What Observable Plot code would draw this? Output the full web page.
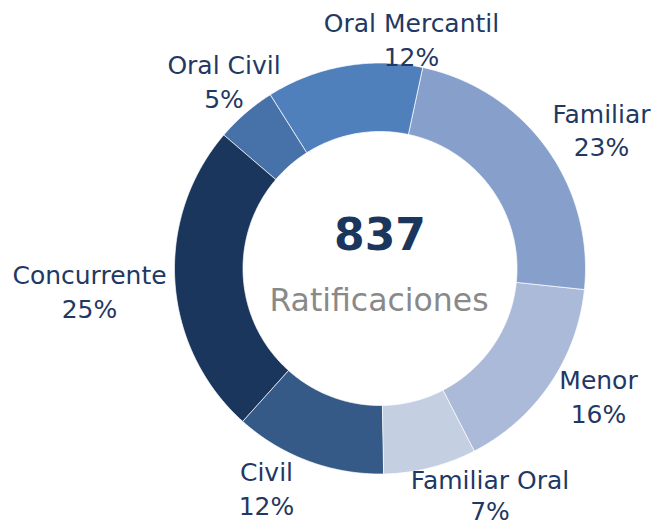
<!DOCTYPE html>
<html>
<head>
<meta charset="utf-8">
<script src="https://cdn.jsdelivr.net/npm/d3@7"></script>
<script src="https://cdn.jsdelivr.net/npm/@observablehq/plot@0.6"></script>
<style>
  html, body { margin: 0; padding: 0; background: #ffffff; }
  #chart svg { display: block; }
</style>
</head>
<body>
<div id="chart"></div>
<script>
// ---- data (clockwise, starting just left of 6 o'clock) ----
const categories = ["Civil", "Concurrente", "Oral Civil", "Oral Mercantil", "Familiar", "Menor", "Familiar Oral"];
const counts = [100, 206, 40, 103, 195, 132, 61];
const colors = ["#365a88", "#1a365d", "#4672a9", "#4f80bc", "#86a0cb", "#aabad8", "#c4cfe2"];
const totalValue = 837;
const centerLabel = "Ratificaciones";

// ---- layout ----
const W = 656, H = 526;
const cx = 379.5, cy = 268, R = 205.5, r = 137;
const startDeg = 179;
// label anchor (centre x, baseline y of the category line, gap to % line)
const labelAt = [
  [266, 480, 34], [89, 283, 34], [223.5, 73, 34], [411, 31, 34], [601, 122, 33], [598, 388, 34], [489.5, 488, 31]
];

const total = d3.sum(counts);
const polys = [];
const labels = [];
let acc = 0;
categories.forEach((name, i) => {
  const a0 = (startDeg + acc / total * 360) * Math.PI / 180;
  acc += counts[i];
  const a1 = (startDeg + acc / total * 360) * Math.PI / 180;
  const n = Math.max(8, Math.ceil((a1 - a0) / 0.01));
  const ring = [];
  for (let k = 0; k <= n; k++) {
    const a = a0 + (a1 - a0) * k / n;
    ring.push({name, x: cx + R * Math.sin(a), y: cy - R * Math.cos(a)});
  }
  for (let k = n; k >= 0; k--) {
    const a = a0 + (a1 - a0) * k / n;
    ring.push({name, x: cx + r * Math.sin(a), y: cy - r * Math.cos(a)});
  }
  polys.push(...ring);
  const pct = Math.round(counts[i] / total * 100) + "%";
  labels.push({name, pct, x: labelAt[i][0], y: labelAt[i][1], y2: labelAt[i][1] + labelAt[i][2]});
});

const font = "DejaVu Sans, sans-serif";
const chart = Plot.plot({
  width: W,
  height: H,
  margin: 0,
  x: {domain: [0, W], range: [0, W], axis: null},
  y: {domain: [0, H], range: [0, H], axis: null},
  color: {domain: categories, range: colors},
  style: {fontFamily: font, background: "#ffffff"},
  marks: [
    Plot.line(polys, {x: "x", y: "y", z: "name", fill: "name", stroke: "#ffffff", strokeWidth: 0.7, curve: "linear-closed"}),
    Plot.text(labels, {x: "x", y: "y", text: "name", fontSize: 25, fill: "#1f3864", textAnchor: "middle", lineAnchor: "bottom", fontFamily: font}),
    Plot.text(labels, {x: "x", y: "y2", text: "pct", fontSize: 25, fill: "#1f3864", textAnchor: "middle", lineAnchor: "bottom", fontFamily: font}),
    Plot.text([totalValue], {x: [cx], y: [249], text: d => String(d), fontSize: 44, fontWeight: "bold", fill: "#1a365d", textAnchor: "middle", lineAnchor: "bottom", fontFamily: font}),
    Plot.text([centerLabel], {x: [cx - 1], y: [310], text: d => d, fontSize: 31.5, fill: "#898989", textAnchor: "middle", lineAnchor: "bottom", fontFamily: font})
  ]
});
document.getElementById("chart").appendChild(chart);
</script>
</body>
</html>
